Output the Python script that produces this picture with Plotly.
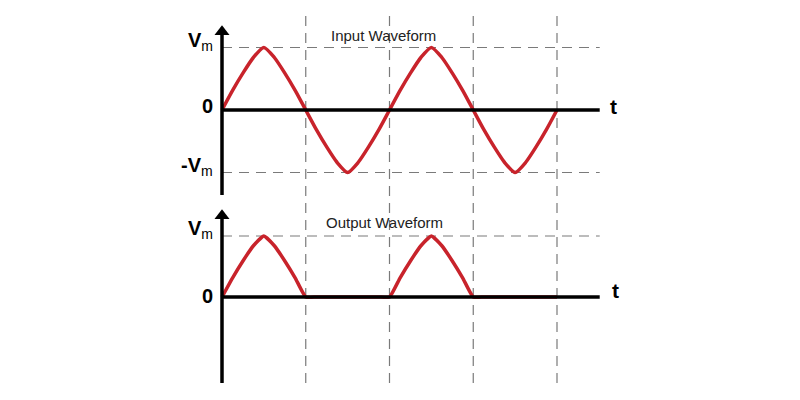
import plotly.graph_objects as go

# ---- data (time in half-periods, voltage in units of Vm) ----
t_in = [0, 0.125, 0.25, 0.375, 0.5, 0.625, 0.75, 0.875, 1,
        1.125, 1.25, 1.375, 1.5, 1.625, 1.75, 1.875, 2,
        2.125, 2.25, 2.375, 2.5, 2.625, 2.75, 2.875, 3,
        3.125, 3.25, 3.375, 3.5, 3.625, 3.75, 3.875, 4]
v_in = [0, 0.31, 0.59, 0.84, 1, 0.84, 0.59, 0.31, 0,
        -0.31, -0.59, -0.84, -1, -0.84, -0.59, -0.31, 0,
        0.31, 0.59, 0.84, 1, 0.84, 0.59, 0.31, 0,
        -0.31, -0.59, -0.84, -1, -0.84, -0.59, -0.31, 0]
v_out = [0, 0.31, 0.59, 0.84, 1, 0.84, 0.59, 0.31, 0,
         0, 0, 0, 0, 0, 0, 0, 0,
         0.31, 0.59, 0.84, 1, 0.84, 0.59, 0.31, 0,
         0, 0, 0, 0, 0, 0, 0, 0]
grid_t = [1, 2, 3, 4]
level_labels_top = ["<b>V</b><sub>m</sub>", "<b>0</b>", "<b>-V</b><sub>m</sub>"]
level_values_top = [1, 0, -1]
level_labels_bot = ["<b>V</b><sub>m</sub>", "<b>0</b>"]
level_values_bot = [1, 0]
titles = ["Input Waveform", "Output Waveform"]
t_end = 4.51
# vertical axis extents (bottom, top) in Vm units for each panel
yax_top = [-1.36, 1.25]
yax_bot = [-1.41, 1.33]

RED = "#c8232b"
GRID = "#7a7a7a"
FONT = "Liberation Sans, Arial, sans-serif"

fig = go.Figure()

# dashed reference lines
for t in grid_t:
    fig.add_shape(type="line", xref="x", yref="paper", x0=t, x1=t, y0=0.0425, y1=0.96,
                  line=dict(color=GRID, width=1.2, dash="10px,7px"), layer="below")
for v in [1, -1]:
    fig.add_shape(type="line", xref="x", yref="y", x0=0, x1=t_end, y0=v, y1=v,
                  line=dict(color=GRID, width=1.2, dash="10px,7px"), layer="below")
fig.add_shape(type="line", xref="x", yref="y2", x0=0, x1=t_end, y0=1, y1=1,
              line=dict(color=GRID, width=1.2, dash="10px,7px"), layer="below")

# horizontal (time) axes
fig.add_shape(type="line", xref="x", yref="y", x0=0, x1=t_end, y0=0, y1=0,
              line=dict(color="black", width=3.5))
fig.add_shape(type="line", xref="x", yref="y2", x0=0, x1=t_end, y0=0, y1=0,
              line=dict(color="black", width=3.5))

# vertical axes
fig.add_shape(type="line", xref="x", yref="y", x0=0, x1=0, y0=yax_top[0], y1=yax_top[1],
              line=dict(color="black", width=3.5))
fig.add_shape(type="line", xref="x", yref="y2", x0=0, x1=0, y0=yax_bot[0], y1=yax_bot[1],
              line=dict(color="black", width=3.5))
fig.add_trace(go.Scatter(x=[0], y=[yax_top[1]], mode="markers", yaxis="y",
                         marker=dict(symbol="triangle-up", size=13, color="black"),
                         hoverinfo="skip"))
fig.add_trace(go.Scatter(x=[0], y=[yax_bot[1]], mode="markers", yaxis="y2",
                         marker=dict(symbol="triangle-up", size=13, color="black"),
                         hoverinfo="skip"))

# waveforms
fig.add_trace(go.Scatter(x=t_in, y=v_in, mode="lines", yaxis="y",
                         line=dict(color=RED, width=3.5, shape="spline", smoothing=0.6),
                         hoverinfo="skip"))
fig.add_trace(go.Scatter(x=t_in, y=v_out, mode="lines", yaxis="y2",
                         line=dict(color=RED, width=3.5, shape="spline", smoothing=0.4),
                         hoverinfo="skip"))

# level labels
for lab, v in zip(level_labels_top, level_values_top):
    fig.add_annotation(x=-0.08, y=v, xref="x", yref="y", text=lab, showarrow=False,
                       xanchor="right", yanchor="middle", yshift=(6 if v != 0 else 4),
                       font=dict(family=FONT, size=20, color="black"))
for lab, v in zip(level_labels_bot, level_values_bot):
    fig.add_annotation(x=-0.08, y=v, xref="x", yref="y2", text=lab, showarrow=False,
                       xanchor="right", yanchor="middle", yshift=(6 if v != 0 else 1),
                       font=dict(family=FONT, size=20, color="black"))

# t labels
fig.add_annotation(x=t_end + 0.1, y=0, xref="x", yref="y", text="<b>t</b>", showarrow=False,
                   xanchor="left", yanchor="middle", yshift=4,
                   font=dict(family=FONT, size=21, color="black"))
fig.add_annotation(x=t_end + 0.12, y=0, xref="x", yref="y2", text="<b>t</b>", showarrow=False,
                   xanchor="left", yanchor="middle", yshift=6,
                   font=dict(family=FONT, size=21, color="black"))

# titles
fig.add_annotation(x=1.93, y=1.2, xref="x", yref="y", text=titles[0], showarrow=False,
                   xanchor="center", yanchor="middle",
                   font=dict(family=FONT, size=15, color="#222"))
fig.add_annotation(x=1.94, y=1.22, xref="x", yref="y2", text=titles[1], showarrow=False,
                   xanchor="center", yanchor="middle",
                   font=dict(family=FONT, size=15, color="#222"))

fig.update_layout(
    width=800, height=400,
    margin=dict(l=0, r=0, t=0, b=0),
    paper_bgcolor="white", plot_bgcolor="white",
    showlegend=False,
    xaxis=dict(range=[-2.6507, 6.9015], visible=False, fixedrange=True),
    yaxis=dict(domain=[0.4875, 1], range=[-1.52, 1.76], visible=False, fixedrange=True),
    yaxis2=dict(domain=[0, 0.4875], range=[-1.689, 1.508], visible=False, fixedrange=True),
)

fig.write_html("out.html", config={"displayModeBar": False},
               post_script="document.body.style.margin='0';")
